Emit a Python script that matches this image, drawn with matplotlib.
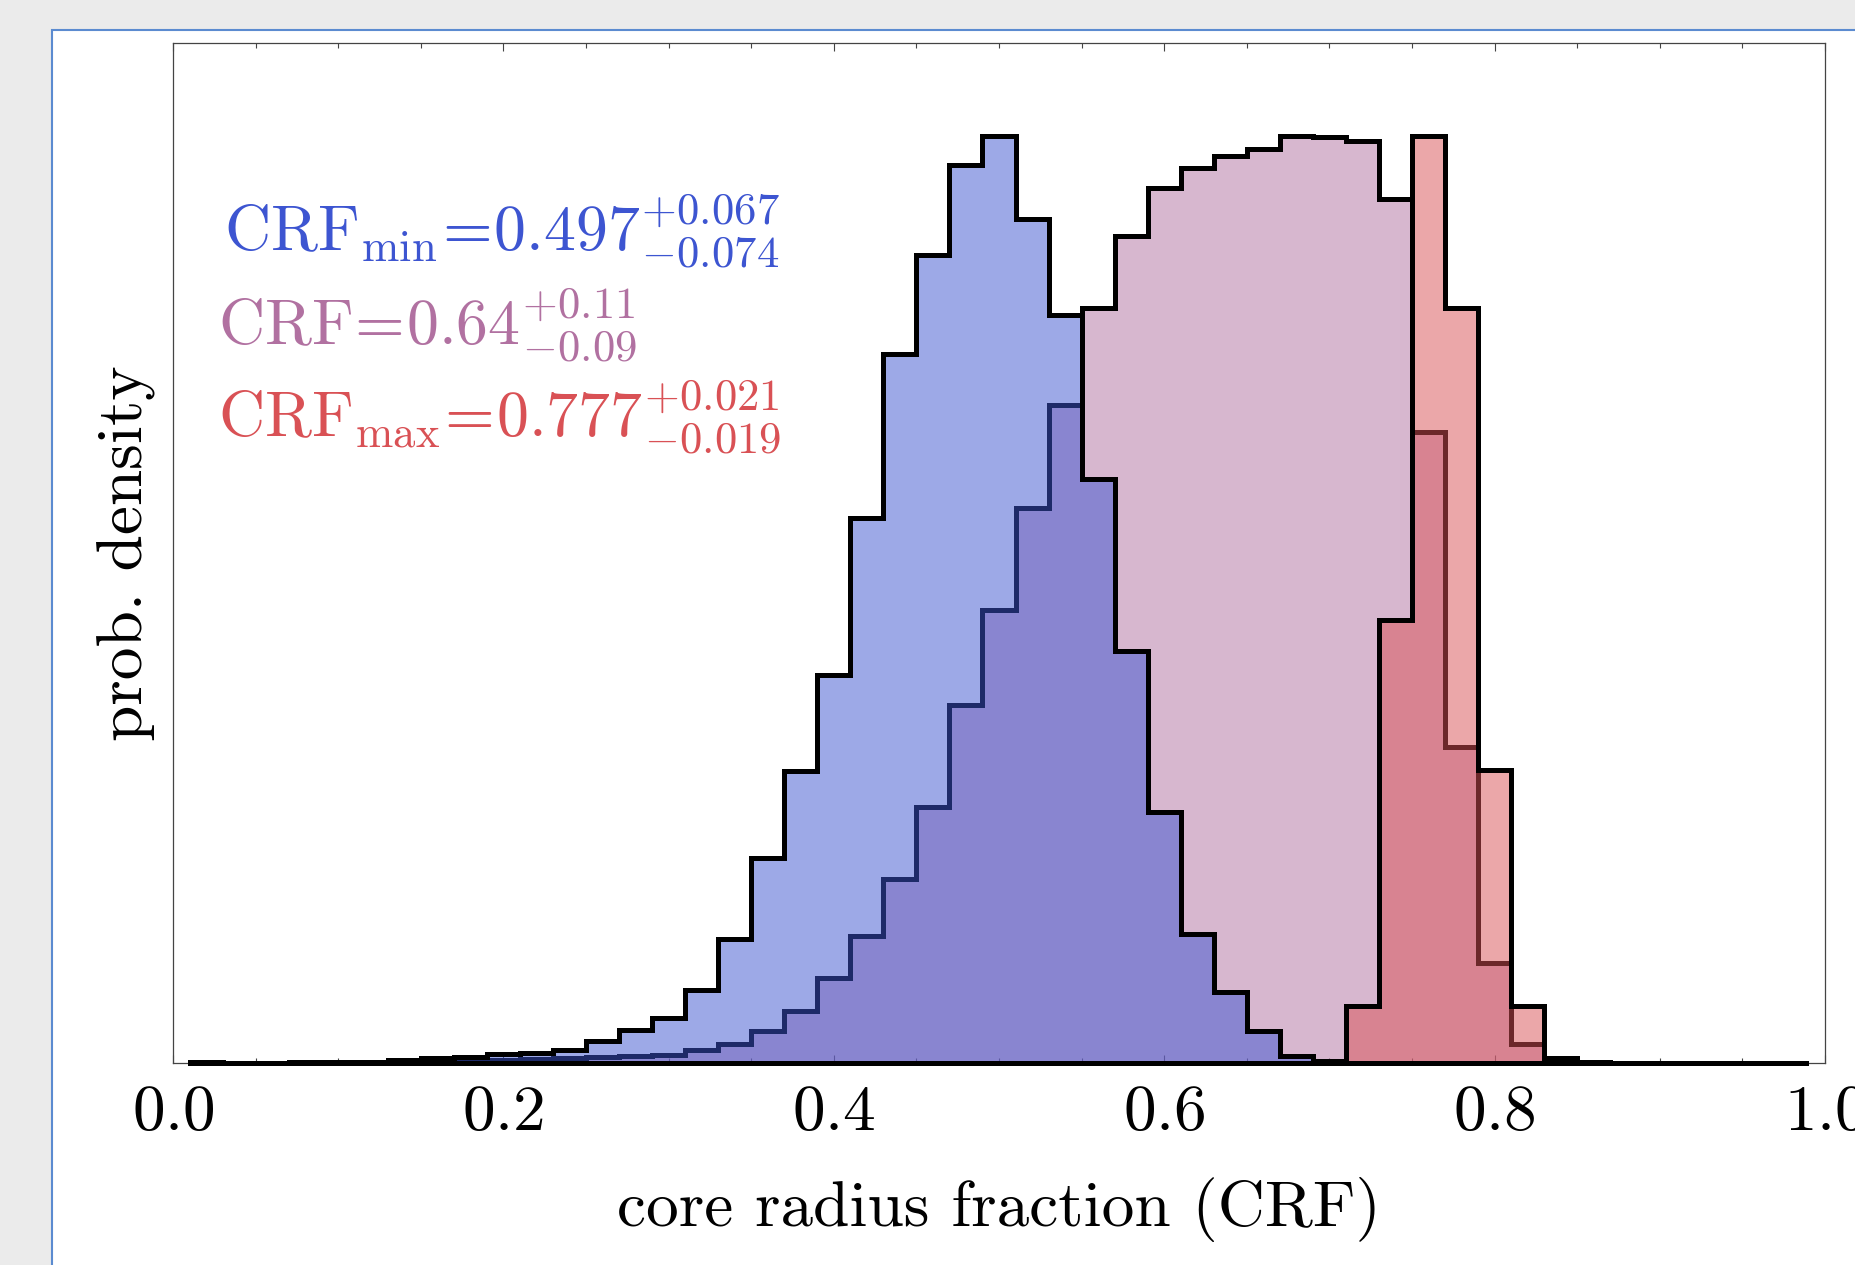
import numpy as np
import matplotlib
matplotlib.use('Agg')
import matplotlib.pyplot as plt
from matplotlib.colors import to_rgba
from matplotlib.patches import Rectangle
from matplotlib.ticker import MultipleLocator

plt.rcParams['font.family'] = 'serif'
plt.rcParams['font.serif'] = ['cmr10']
plt.rcParams['mathtext.fontset'] = 'cm'
plt.rcParams['axes.formatter.use_mathtext'] = True

# 49 bins of width 0.02 between 0.01 and 0.99, heights scaled to peak = 1
bin_edges = np.linspace(0.01, 0.99, 50)
bin_centres = 0.5 * (bin_edges[1:] + bin_edges[:-1])

crf_min = [0.0008, 0.0003, 0.0004, 0.0008, 0.001, 0.0015, 0.0028, 0.0054, 0.0066, 0.0092,
           0.011, 0.0143, 0.0232, 0.036, 0.049, 0.0785, 0.134, 0.221, 0.315, 0.418,
           0.588, 0.765, 0.871, 0.968, 1.0, 0.910, 0.807, 0.630, 0.444, 0.271,
           0.139, 0.077, 0.034, 0.008, 0.002, 0, 0, 0, 0, 0,
           0, 0, 0, 0, 0, 0, 0, 0, 0]

crf = [0, 0, 0, 0, 0, 0, 0.0005, 0.001, 0.0016, 0.0027,
       0.004, 0.005, 0.006, 0.0076, 0.009, 0.0137, 0.0205, 0.0345, 0.0565, 0.0915,
       0.137, 0.198, 0.2765, 0.386, 0.489, 0.598, 0.710, 0.814, 0.892, 0.944,
       0.965, 0.978, 0.986, 1.0, 0.999, 0.994, 0.932, 0.680, 0.341, 0.108,
       0.020, 0, 0, 0, 0, 0, 0, 0, 0]

crf_max = [0, 0, 0, 0, 0, 0, 0, 0, 0, 0,
           0, 0, 0, 0, 0, 0, 0, 0, 0, 0,
           0, 0, 0, 0, 0, 0, 0, 0, 0, 0,
           0, 0, 0, 0, 0, 0.061, 0.478, 1.0, 0.814, 0.316,
           0.061, 0.005, 0.001, 0, 0, 0, 0, 0, 0]

labels = [r'$\mathrm{CRF}_{\mathrm{min}}\!=\!0.497^{+0.067}_{-0.074}$',
          r'$\mathrm{CRF}\!=\!0.64^{+0.11}_{-0.09}$',
          r'$\mathrm{CRF}_{\mathrm{max}}\!=\!0.777^{+0.021}_{-0.019}$']

blue = '#3D55D1'
purple = '#B171A1'
red = '#D95155'

fig = plt.figure(figsize=(18.55, 12.65), dpi=100, facecolor='#EBEBEB')
# white panel of the window behind the plot
fig.patches.append(Rectangle((52 / 1855, -0.2), 1.2, 1.2 - 30 / 1265, transform=fig.transFigure,
                             facecolor='white', edgecolor='#5B8BD0', lw=1.5, zorder=-10))

ax = fig.add_axes([173 / 1855, 1 - 1063 / 1265, 1652 / 1855, 1020 / 1265])
ax.set_zorder(1)

for vals, col in [(crf, purple), (crf_min, blue), (crf_max, red)]:
    n, b, patches = ax.hist(bin_centres, bins=bin_edges, weights=vals, histtype='stepfilled',
                            facecolor=to_rgba(col, 0.5), edgecolor='black', linewidth=3.6,
                            zorder=3)
    for p in patches:
        p.set_clip_on(False)

ax.set_xlim(0, 1)
ax.set_ylim(0, 1.1)
ax.xaxis.set_major_locator(MultipleLocator(0.2))
ax.xaxis.set_minor_locator(MultipleLocator(0.05))
ax.tick_params(which='both', direction='in', top=True, bottom=True, left=False, right=False,
               labelleft=False, color='#444444', width=0.8, labelsize=47, pad=16)
ax.tick_params(which='major', length=6)
ax.tick_params(which='minor', length=3.5)
for s in ax.spines.values():
    s.set_color('#444444')
    s.set_linewidth(0.9)

ax.set_xlabel('core radius fraction (CRF)', fontsize=47, labelpad=24)
ax.set_ylabel('prob. density', fontsize=47, labelpad=12)

ax.text(0.031, 0.7954, labels[0], color=blue, fontsize=46, transform=ax.transAxes,
        ha='left', va='baseline')
ax.text(0.027, 0.7039, labels[1], color=purple, fontsize=46, transform=ax.transAxes,
        ha='left', va='baseline')
ax.text(0.027, 0.6134, labels[2], color=red, fontsize=46, transform=ax.transAxes,
        ha='left', va='baseline')

fig.savefig('out.png', dpi=100, facecolor=fig.get_facecolor())
